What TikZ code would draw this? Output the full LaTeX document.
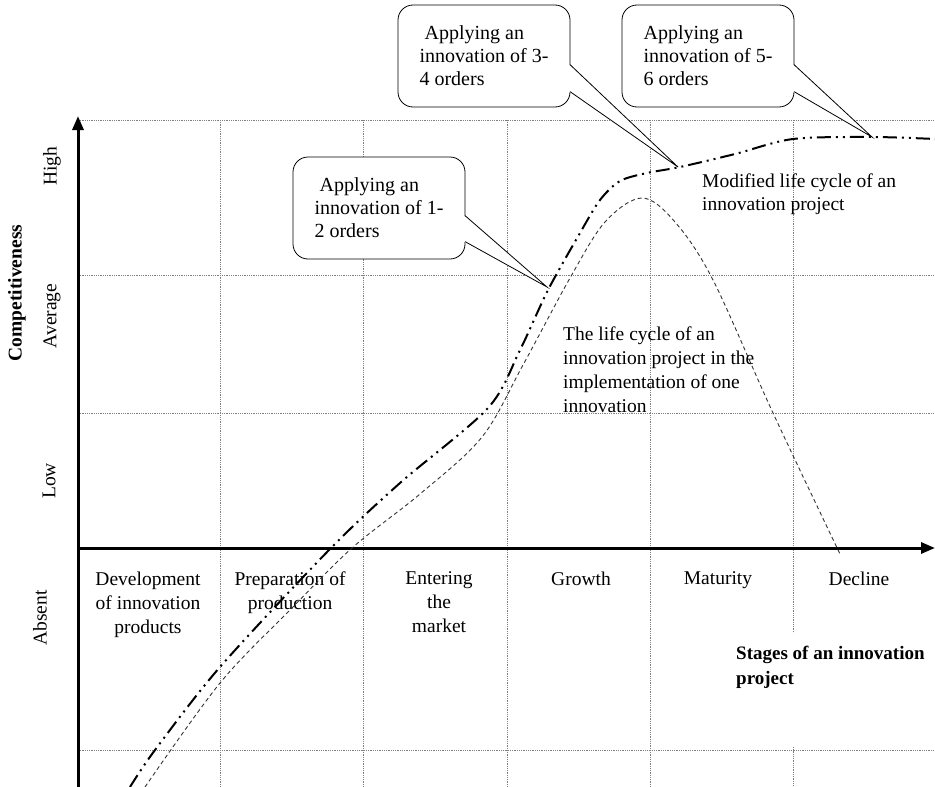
\documentclass[tikz,border=0pt]{standalone}
\usepackage{fontspec}
\setmainfont{Liberation Serif}
\usepackage{tikz}
\usetikzlibrary{arrows.meta,calc}

\begin{document}
\begin{tikzpicture}[x=1pt, y=-1pt,
        gridline/.style={gray, densely dotted, line width=0.8pt},
        axisline/.style={line width=3pt, -{Triangle[length=14pt,width=11pt]}},
        stage/.style={anchor=north, align=center, font=\fontsize{19.5}{24}\selectfont},
        level/.style={rotate=90, font=\fontsize{19.5}{24}\selectfont},
        callout/.style={draw, fill=white, rounded corners=15pt, line width=0.8pt, align=left,
            minimum width=172pt, minimum height=102pt, font=\fontsize{20}{23}\selectfont}]
        \useasboundingbox (0,0) rectangle (935,787);

        % grid
        \foreach \gy in {120,275,413,750}
            \draw[gridline] (78,\gy) -- (935,\gy);
        \foreach \gx in {220,363,507,650}
            \draw[gridline] (\gx,120) -- (\gx,787);
        \draw[gridline] (793,120) -- (793,633);
        \draw[gridline] (793,747) -- (793,787);

        % axes
        \draw[axisline] (78,787) -- (78,116);
        \draw[axisline] (78,548) -- (935,548);

        % competitiveness levels
        \node[level, font=\fontsize{19.5}{24}\selectfont\bfseries] (comp) at (17,293) {Competitiveness};
        \node[level] (high) at (52,166) {High};
        \node[level] (avg) at (52,316) {Average};
        \node[level] (low) at (49,481) {Low};
        \node[level] (absent) at (40,618) {Absent};

        % stages
        \node[stage] (dev) at (148,568) {Development\\of innovation\\products};
        \node[stage] (prep) at (290,568) {Preparation of\\production};
        \node[stage] (enter) at (439,568) {Entering\\the\\market};
        \node[stage] (grow) at (581,568) {Growth};
        \node[stage] (mat) at (718,568) {Maturity};
        \node[stage] (decl) at (859,568) {Decline};
        \node[anchor=north west, inner sep=0pt, align=left, font=\fontsize{19}{25}\selectfont\bfseries] (stages) at (736,646) {Stages of an innovation\\project};

        % curves
        \draw[line width=0.9pt, black!80, dash pattern=on 4pt off 3pt] plot[smooth, tension=0.55] coordinates {
            (145,787) (220,683) (290,610) (352,548) (420,494) (482,437)
            (523,365) (570,278) (605,222) (642,198) (675,222) (713,280) (773,413) (840,554)};
        \draw[line width=2pt, dash pattern=on 14pt off 5pt on 2pt off 5pt on 2pt off 5pt] plot[smooth, tension=0.5] coordinates {
            (130,787) (155,750) (220,667) (330,549) (400,483) (488,408) (520,350) (548,290)
            (580,233) (600,200) (620,181) (647,173) (680,167) (735,154) (793,139) (872,137) (935,139)};

        \node[anchor=north west, inner sep=0pt, align=left, font=\fontsize{19.5}{23}\selectfont] (modlabel) at (702,174) {Modified life cycle of an\\innovation project};
        \node[anchor=north west, inner sep=0pt, align=left, font=\fontsize{19.5}{24}\selectfont] (onelabel) at (563,327) {The life cycle of an\\innovation project in the\\implementation of one\\innovation};

        % callouts
        \node[callout] (box1) at (379,208) {\ Applying an\\innovation of 1-\\2 orders};
        \node[callout] (box2) at (484,56) {\ Applying an\\innovation of 3-\\4 orders};
        \node[callout] (box3) at (708,56) {Applying an\\innovation of 5-\\6 orders};
        \coordinate (tip1) at (547,287);
        \coordinate (tip2) at (678,167);
        \coordinate (tip3) at (872,137);
        \foreach \b/\t/\ya/\yb in {box1/tip1/59/85, box2/tip2/60/87, box3/tip3/60/87} {
            \fill[white] ($(\b.north east)+(-1.5,\ya)$) -- (\t) -- ($(\b.north east)+(-1.5,\yb)$) -- cycle;
            \draw[line width=0.8pt] ($(\b.north east)+(-0.4,\ya)$) -- (\t) -- ($(\b.north east)+(-0.4,\yb)$);
        }
    \end{tikzpicture}
\end{document}
